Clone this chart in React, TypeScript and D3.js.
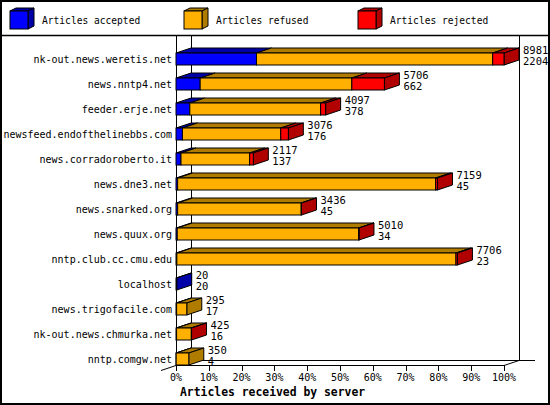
import React from 'react';
import * as d3 from 'd3';

// news servers, top to bottom
const servers = [
  'nk-out.news.weretis.net',
  'news.nntp4.net',
  'feeder.erje.net',
  'newsfeed.endofthelinebbs.com',
  'news.corradoroberto.it',
  'news.dne3.net',
  'news.snarked.org',
  'news.quux.org',
  'nntp.club.cc.cmu.edu',
  'localhost',
  'news.trigofacile.com',
  'nk-out.news.chmurka.net',
  'nntp.comgw.net',
];

const accepted = [2204, 662, 378, 176, 137, 45, 45, 34, 23, 20, 17, 16, 4];
const refused = [6467, 4152, 3582, 2692, 1880, 7064, 3383, 4966, 7643, 0, 278, 404, 346];
const rejected = [310, 892, 137, 208, 100, 50, 8, 10, 40, 0, 0, 5, 0];

const seriesNames = ['Articles accepted', 'Articles refused', 'Articles rejected'];
const faceColors = ['#0000ff', '#ffb000', '#ff0000'];
const shadeColors = ['#0000a8', '#b07c00', '#b00000'];

const pctTicks = [0, 10, 20, 30, 40, 50, 60, 70, 80, 90, 100];

const FONT = '"DejaVu Sans Mono", "Liberation Mono", monospace';

const poly = (pts: [number, number][]) => 'M' + pts.map((p) => p.join(',')).join('L') + 'Z';

export default function App() {
  const W = 550;
  const H = 405;
  const DX = 15; // 3d depth
  const DY = 5;
  const half = 6;

  const totals = servers.map((_, i) => accepted[i] + refused[i] + rejected[i]);

  const x = d3.scaleLinear().domain([0, d3.max(totals) || 1]).range([176, 504]);
  const pct = d3.scaleLinear().domain([0, 100]).range([176, 504]);
  const y = d3.scaleBand().domain(servers).range([46.5, 371.5]);

  const x0 = pct(0);
  const x100 = pct(100);
  const floorY = 365;

  return (
    <div style={{ position: 'absolute', left: 0, top: 0 }}>
      <svg width={W} height={H} style={{ display: 'block', background: '#fff' }}>
        <rect x={1} y={1} width={548} height={403} fill="#fff" stroke="#000" strokeWidth={2} />
        <line x1={0} x2={W} y1={35.5} y2={35.5} stroke="#000" strokeWidth={1.5} />

        {/* legend */}
        {seriesNames.map((name, k) => {
          const lx = [10, 184, 358][k];
          const ly = 11;
          const s = 18;
          return (
            <g key={name}>
              <path d={poly([[lx, ly], [lx + 6, ly - 3], [lx + s + 6, ly - 3], [lx + s, ly]])} fill={shadeColors[k]} stroke="#000" />
              <path d={poly([[lx + s, ly], [lx + s + 6, ly - 3], [lx + s + 6, ly + s - 3], [lx + s, ly + s]])} fill={shadeColors[k]} stroke="#000" />
              <rect x={lx} y={ly} width={s} height={s} fill={faceColors[k]} stroke="#000" />
              <text x={lx + 32} y={24} fontFamily={FONT} fontSize={9.6} fill="#000">{name}</text>
            </g>
          );
        })}

        {/* walls and floor */}
        <g stroke="#000" strokeWidth={1} fill="none">
          <line x1={x0 + DX + 0.5} x2={x0 + DX + 0.5} y1={36} y2={floorY - DY} />
          <line x1={x100 + DX + 0.5} x2={x100 + DX + 0.5} y1={36} y2={floorY - DY} />
          <line x1={x0 + DX} x2={x100 + DX + 16} y1={floorY - DY + 0.5} y2={floorY - DY + 0.5} />
          <line x1={x0 - DX} y1={floorY + DY + 0.5} x2={x0 + DX} y2={floorY - DY + 0.5} />
          <line x1={x100} y1={floorY + 0.5} x2={x100 + DX} y2={floorY - DY + 0.5} />
          <line x1={x0} x2={x100} y1={floorY + 0.5} y2={floorY + 0.5} />
          <line x1={x0 + 0.5} x2={x0 + 0.5} y1={36} y2={floorY + 6} />
          {pctTicks.map((t) => (
            <line key={t} x1={Math.round(pct(t)) + 0.5} x2={Math.round(pct(t)) + 0.5} y1={floorY} y2={floorY + 6} />
          ))}
        </g>

        {/* bars */}
        {servers.map((srv, i) => {
          const c = (y(srv) || 0) + y.bandwidth() / 2;
          const top = c - half;
          const bot = c + half;
          const vals = [accepted[i], refused[i], rejected[i]];
          let cum = 0;
          let last = 0;
          const segs = vals.map((v, k) => {
            const a = x(cum);
            cum += v;
            const b = x(cum);
            if (v > 0) last = k;
            return { a, b, v, k };
          }).filter((s) => s.v > 0);
          const end = x(cum);
          return (
            <g key={srv} stroke="#000" strokeWidth={1} strokeLinejoin="miter">
              {segs.map((s) => (
                <path key={'t' + s.k} d={poly([[s.a, top], [s.a + DX, top - DY], [s.b + DX, top - DY], [s.b, top]])} fill={shadeColors[s.k]} />
              ))}
              <path d={poly([[end, top], [end + DX, top - DY], [end + DX, bot - DY], [end, bot]])} fill={shadeColors[last]} />
              {segs.map((s) => (
                <rect key={'f' + s.k} x={s.a} y={top} width={s.b - s.a} height={bot - top} fill={faceColors[s.k]} />
              ))}
            </g>
          );
        })}

        {/* category labels */}
        {servers.map((srv) => {
          const c = (y(srv) || 0) + y.bandwidth() / 2;
          return (
            <text key={srv} x={172} y={c + 3.5} textAnchor="end" fontFamily={FONT} fontSize={10} fill="#000">
              {srv}
            </text>
          );
        })}

        {/* value labels */}
        {servers.map((srv, i) => {
          const c = (y(srv) || 0) + y.bandwidth() / 2;
          const lx = x(totals[i]) + DX + 4;
          return (
            <text key={srv} fontFamily={FONT} fontSize={10.5} fill="#000">
              <tspan x={lx} y={c - 5}>{totals[i]}</tspan>
              <tspan x={lx} y={c + 6}>{accepted[i]}</tspan>
            </text>
          );
        })}

        {/* x tick labels */}
        {pctTicks.map((t) => (
          <text key={t} x={pct(t)} y={381} textAnchor="middle" fontFamily={FONT} fontSize={10} fill="#000">
            {t + '%'}
          </text>
        ))}

        <text x={180} y={396} fontFamily={FONT} fontSize={11.4} fontWeight="bold" fill="#000">
          Articles received by server
        </text>
      </svg>
    </div>
  );
}
